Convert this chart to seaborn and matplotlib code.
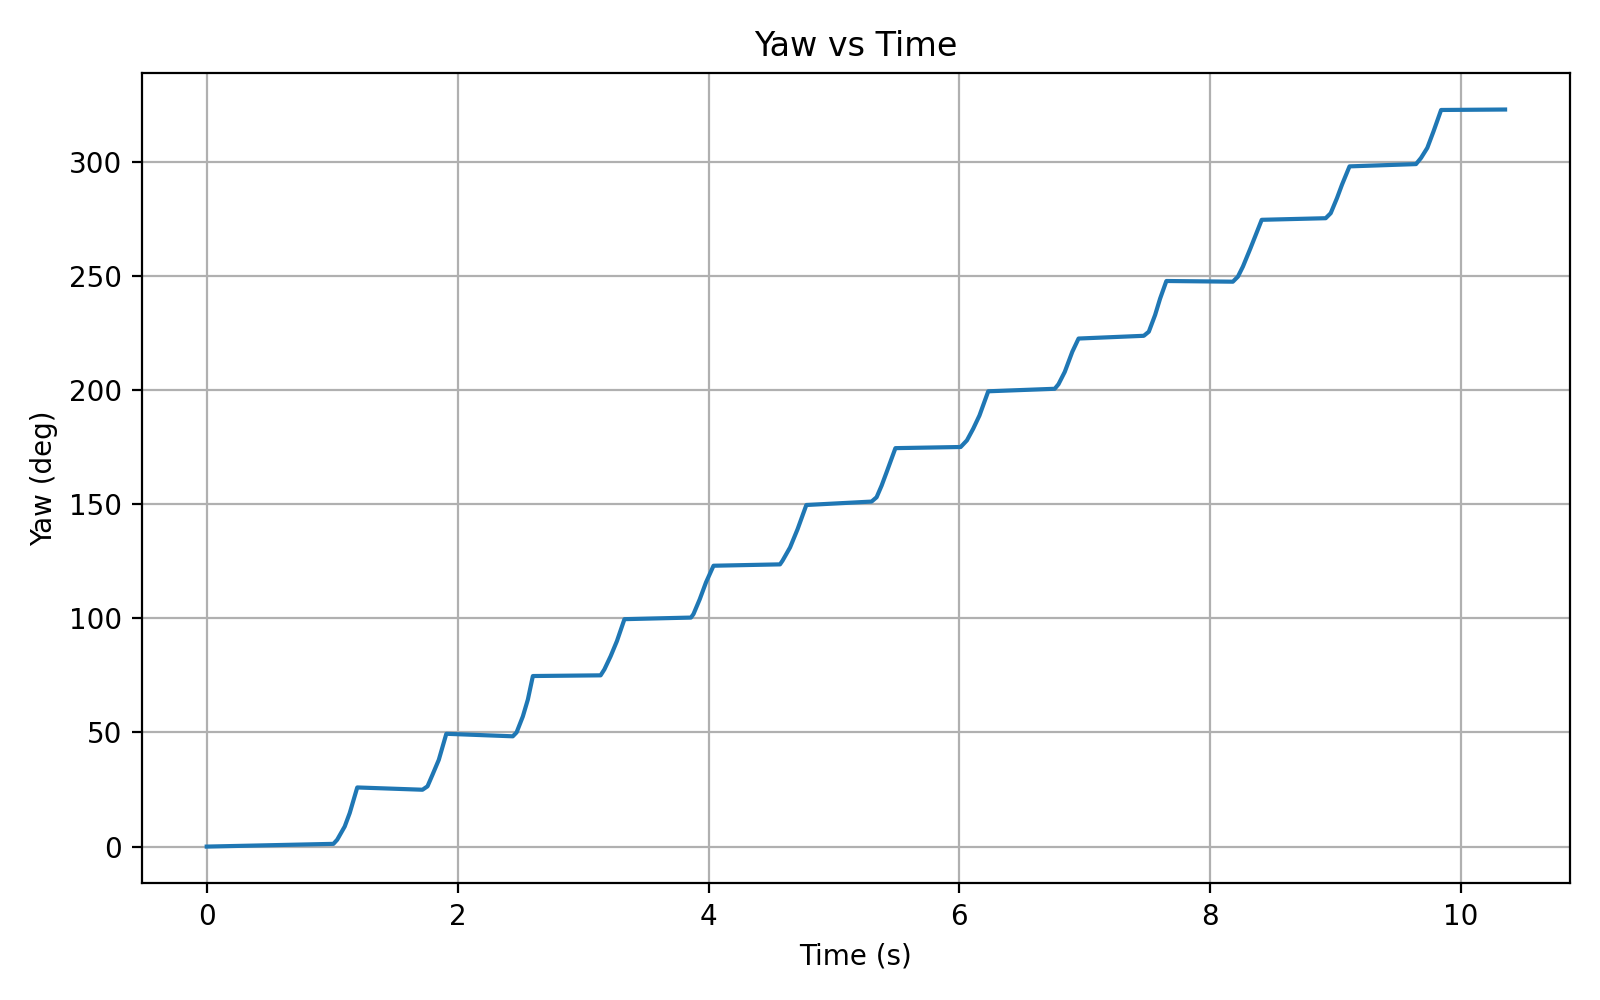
import matplotlib
matplotlib.use("Agg")
import matplotlib.pyplot as plt
import seaborn as sns
import pandas as pd

# yaw trace (time in s, yaw in deg)
time_s = [0.00,
          1.01, 1.04, 1.10, 1.14, 1.20,
          1.72, 1.76, 1.80, 1.85, 1.91,
          2.44, 2.47, 2.52, 2.56, 2.60,
          3.14, 3.17, 3.22, 3.27, 3.33,
          3.86, 3.88, 3.93, 3.98, 4.04,
          4.57, 4.59, 4.65, 4.71, 4.78,
          5.30, 5.34, 5.38, 5.42, 5.49,
          6.01, 6.06, 6.11, 6.16, 6.23,
          6.76, 6.79, 6.84, 6.90, 6.95,
          7.47, 7.51, 7.56, 7.60, 7.65,
          8.18, 8.22, 8.26, 8.32, 8.41,
          8.92, 8.96, 9.01, 9.05, 9.11,
          9.64, 9.68, 9.73, 9.78, 9.84,
          10.35]
yaw_deg = [0.0,
           1.2, 3.0, 8.8, 14.7, 25.9,
           24.9, 26.4, 31.5, 38.0, 49.4,
           48.3, 50.0, 57.0, 64.4, 74.7,
           75.0, 77.6, 83.4, 90.0, 99.6,
           100.3, 101.8, 108.3, 115.7, 123.0,
           123.6, 125.2, 131.0, 139.0, 149.6,
           151.1, 153.0, 158.1, 164.0, 174.5,
           175.0, 177.9, 183.0, 188.8, 199.4,
           200.5, 202.5, 207.9, 216.7, 222.5,
           223.7, 225.5, 232.8, 240.0, 247.7,
           247.4, 249.6, 254.0, 262.0, 274.5,
           275.2, 277.4, 284.0, 289.9, 297.9,
           298.9, 301.6, 306.0, 313.3, 322.6,
           322.8]

df = pd.DataFrame({"time": time_s, "yaw": yaw_deg})

fig, ax = plt.subplots(figsize=(8, 5), dpi=200)
sns.lineplot(data=df, x="time", y="yaw", color="#1f77b4", linewidth=1.5, ax=ax)

ax.set_title("Yaw vs Time")
ax.set_xlabel("Time (s)")
ax.set_ylabel("Yaw (deg)")
ax.grid(True)

plt.tight_layout()
plt.savefig("out.png", dpi=200)
plt.close()
